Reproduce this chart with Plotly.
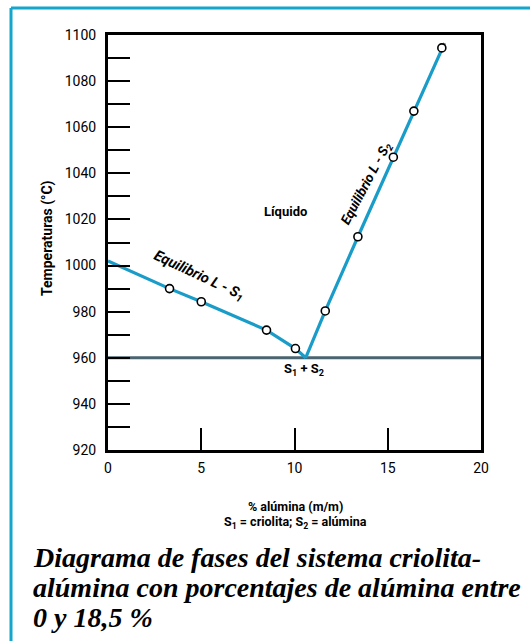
import plotly.graph_objects as go

# Liquidus branch L - S1 (cryolite side)
s1_x = [0.0, 3.3, 5.0, 8.5, 10.05, 10.6]
s1_y = [1002, 990, 984.3, 972, 964, 960]
s1_marker = [False, True, True, True, True, False]

# Liquidus branch L - S2 (alumina side)
s2_x = [10.6, 11.65, 13.4, 15.3, 16.4, 17.9, 18.05]
s2_y = [960, 980.3, 1012.5, 1047, 1067, 1094.4, 1096.5]
s2_marker = [False, True, True, True, True, True, False]

# Eutectic isotherm
eut_x = [0, 20]
eut_y = [960, 960]

x_ticks = [0, 5, 10, 15, 20]
y_ticks = [920, 940, 960, 980, 1000, 1020, 1040, 1060, 1080, 1100]

caption_lines = [
    "Diagrama de fases del sistema criolita-",
    "alúmina con porcentajes de alúmina entre",
    "0 y 18,5 %",
]

BLUE = "#1a9cc9"
FRAME_BLUE = "#15a6cc"
SLATE = "#4a6470"
SANS = "Roboto, Liberation Sans, sans-serif"
SERIF = "Liberation Serif, DejaVu Serif, serif"

fig = go.Figure()

fig.add_trace(go.Scatter(x=eut_x, y=eut_y, mode="lines",
                         line=dict(color=SLATE, width=3), hoverinfo="skip"))

for xs, ys, flags in [(s1_x, s1_y, s1_marker), (s2_x, s2_y, s2_marker)]:
    fig.add_trace(go.Scatter(x=xs, y=ys, mode="lines",
                             line=dict(color=BLUE, width=3.2)))
    fig.add_trace(go.Scatter(
        x=[a for a, f in zip(xs, flags) if f],
        y=[b for b, f in zip(ys, flags) if f],
        mode="markers",
        marker=dict(symbol="circle", size=8, color="white",
                    line=dict(color="black", width=1.6))))

W, H = 530, 641
L, R, T, B = 108, 49, 35, 191
pw, ph = W - L - R, H - T - B


def px(xp):
    return (xp - L) / pw


def py(yp):
    return (H - B - yp) / ph


fig.update_layout(
    width=W, height=H,
    margin=dict(l=L, r=R, t=T, b=B),
    paper_bgcolor="white", plot_bgcolor="white",
    showlegend=False,
    font=dict(family=SANS, size=13, color="black"),
    xaxis=dict(range=[0, 20], tickvals=x_ticks, ticktext=[str(v) for v in x_ticks],
               ticks="inside", ticklen=22, tickwidth=2, tickcolor="black",
               showline=True, linewidth=3, linecolor="black", mirror=True,
               showgrid=False, zeroline=False, ticklabelstandoff=3,
               tickfont=dict(family=SANS, size=14)),
    yaxis=dict(range=[920, 1100], tickvals=y_ticks, ticktext=[str(v) for v in y_ticks],
               ticks="inside", ticklen=22, tickwidth=2, tickcolor="black",
               minor=dict(dtick=10, ticks="inside", ticklen=22, tickwidth=2,
                          tickcolor="black"),
               showline=True, linewidth=3, linecolor="black", mirror=True,
               showgrid=False, zeroline=False, ticklabelstandoff=6,
               tickfont=dict(family=SANS, size=14)),
)

# Blue corner frame
fig.add_shape(type="line", xref="paper", yref="paper",
              x0=px(11), x1=px(530), y0=py(8), y1=py(8),
              line=dict(color=FRAME_BLUE, width=3))
fig.add_shape(type="line", xref="paper", yref="paper",
              x0=px(11), x1=px(11), y0=py(8), y1=py(641),
              line=dict(color=FRAME_BLUE, width=3))

# Region and branch labels
fig.add_annotation(x=9.5, y=1023.5, text="<b>Líquido</b>", showarrow=False,
                   font=dict(family=SANS, size=13))
fig.add_annotation(x=4.9, y=995.5, text="<b><i>Equilibrio L - S<sub>1</sub></i></b>",
                   showarrow=False, textangle=25, font=dict(family=SANS, size=14.5))
fig.add_annotation(x=13.85, y=1036, text="<b><i>Equilibrio L - S<sub>2</sub></i></b>",
                   showarrow=False, textangle=-62, font=dict(family=SANS, size=13.5))
fig.add_annotation(x=10.5, y=955, text="<b>S<sub>1</sub> + S<sub>2</sub></b>",
                   showarrow=False, font=dict(family=SANS, size=13))

# Axis titles
fig.add_annotation(xref="paper", yref="paper", x=px(47), y=py(238),
                   xanchor="center", yanchor="middle",
                   text="<b>Temperaturas (°C)</b>", textangle=-90, showarrow=False,
                   font=dict(family=SANS, size=14))
fig.add_annotation(xref="paper", yref="paper", x=px(295), y=py(506),
                   xanchor="center", yanchor="middle",
                   text="<b>% alúmina (m/m)</b>", showarrow=False,
                   font=dict(family=SANS, size=12.5))
fig.add_annotation(xref="paper", yref="paper", x=px(295), y=py(522),
                   xanchor="center", yanchor="middle",
                   text="<b>S<sub>1</sub> = criolita; S<sub>2</sub> = alúmina</b>",
                   showarrow=False, font=dict(family=SANS, size=12.5))

# Caption, one annotation per line to control the leading
for i, line in enumerate(caption_lines):
    fig.add_annotation(xref="paper", yref="paper", x=px(31), y=py(557 + 30 * i),
                       xanchor="left", yanchor="middle", showarrow=False,
                       text="<b><i>" + line + "</i></b>",
                       font=dict(family=SERIF, size=28))

fig.write_html("out.html")
